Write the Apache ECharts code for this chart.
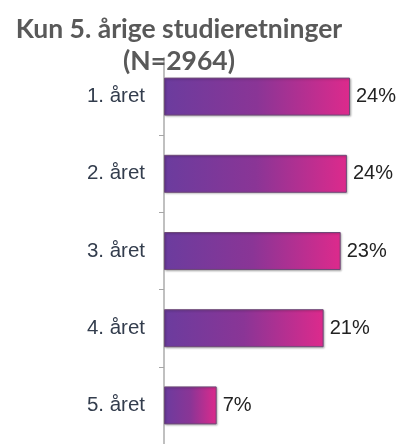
<!DOCTYPE html>
<html>
<head>
<meta charset="utf-8">
<script src="https://cdn.jsdelivr.net/npm/echarts@6/dist/echarts.min.js"></script>
<style>html,body{margin:0;padding:0;background:#fff}#c{width:405px;height:444px}</style>
</head>
<body>
<div id="c"></div>
<script>
var titleLines = ['Kun 5. årige studieretninger', '(N=2964)'];
var categories = ['1. året', '2. året', '3. året', '4. året', '5. året'];
var values = [24.0, 23.6, 22.8, 20.6, 6.8];

var chart = echarts.init(document.getElementById('c'), null, {renderer: 'canvas'});
chart.setOption({
  animation: false,
  title: {
    text: titleLines.join('\n'),
    left: 174,
    top: 8,
    textAlign: 'center',
    textStyle: {
      fontFamily: 'Lato',
      fontWeight: 'bold',
      fontSize: 26.5,
      lineHeight: 32,
      color: '#595959'
    }
  },
  grid: {left: 164, top: 58, height: 395, right: 8.5, containLabel: false},
  xAxis: {type: 'value', min: 0, max: 30, show: false},
  yAxis: {
    type: 'category',
    data: categories,
    inverse: true,
    axisLine: {show: true, lineStyle: {color: '#c0c0c0', width: 2}},
    axisTick: {show: true, length: 5, lineStyle: {color: '#a6a6a6', width: 1}},
    axisLabel: {margin: 19, fontFamily: 'Liberation Sans', fontSize: 20.5, color: '#333d4d'},
    splitLine: {show: false}
  },
  series: [{
    type: 'bar',
    data: values,
    barWidth: 38,
    itemStyle: {
      color: new echarts.graphic.LinearGradient(0, 0, 1, 0, [
        {offset: 0, color: '#6b3c9e'},
        {offset: 0.5, color: '#8a3596'},
        {offset: 1, color: '#dd2a8c'}
      ]),
      borderColor: '#6e4a78',
      borderWidth: 1,
      shadowColor: 'rgba(0,0,0,0.25)',
      shadowBlur: 2,
      shadowOffsetX: 1,
      shadowOffsetY: 1
    },
    label: {
      show: true,
      position: 'right',
      distance: 6,
      fontFamily: 'Liberation Sans',
      fontSize: 20,
      color: '#222222',
      formatter: function (p) { return Math.round(p.value) + '%'; }
    }
  }]
});
</script>
</body>
</html>
